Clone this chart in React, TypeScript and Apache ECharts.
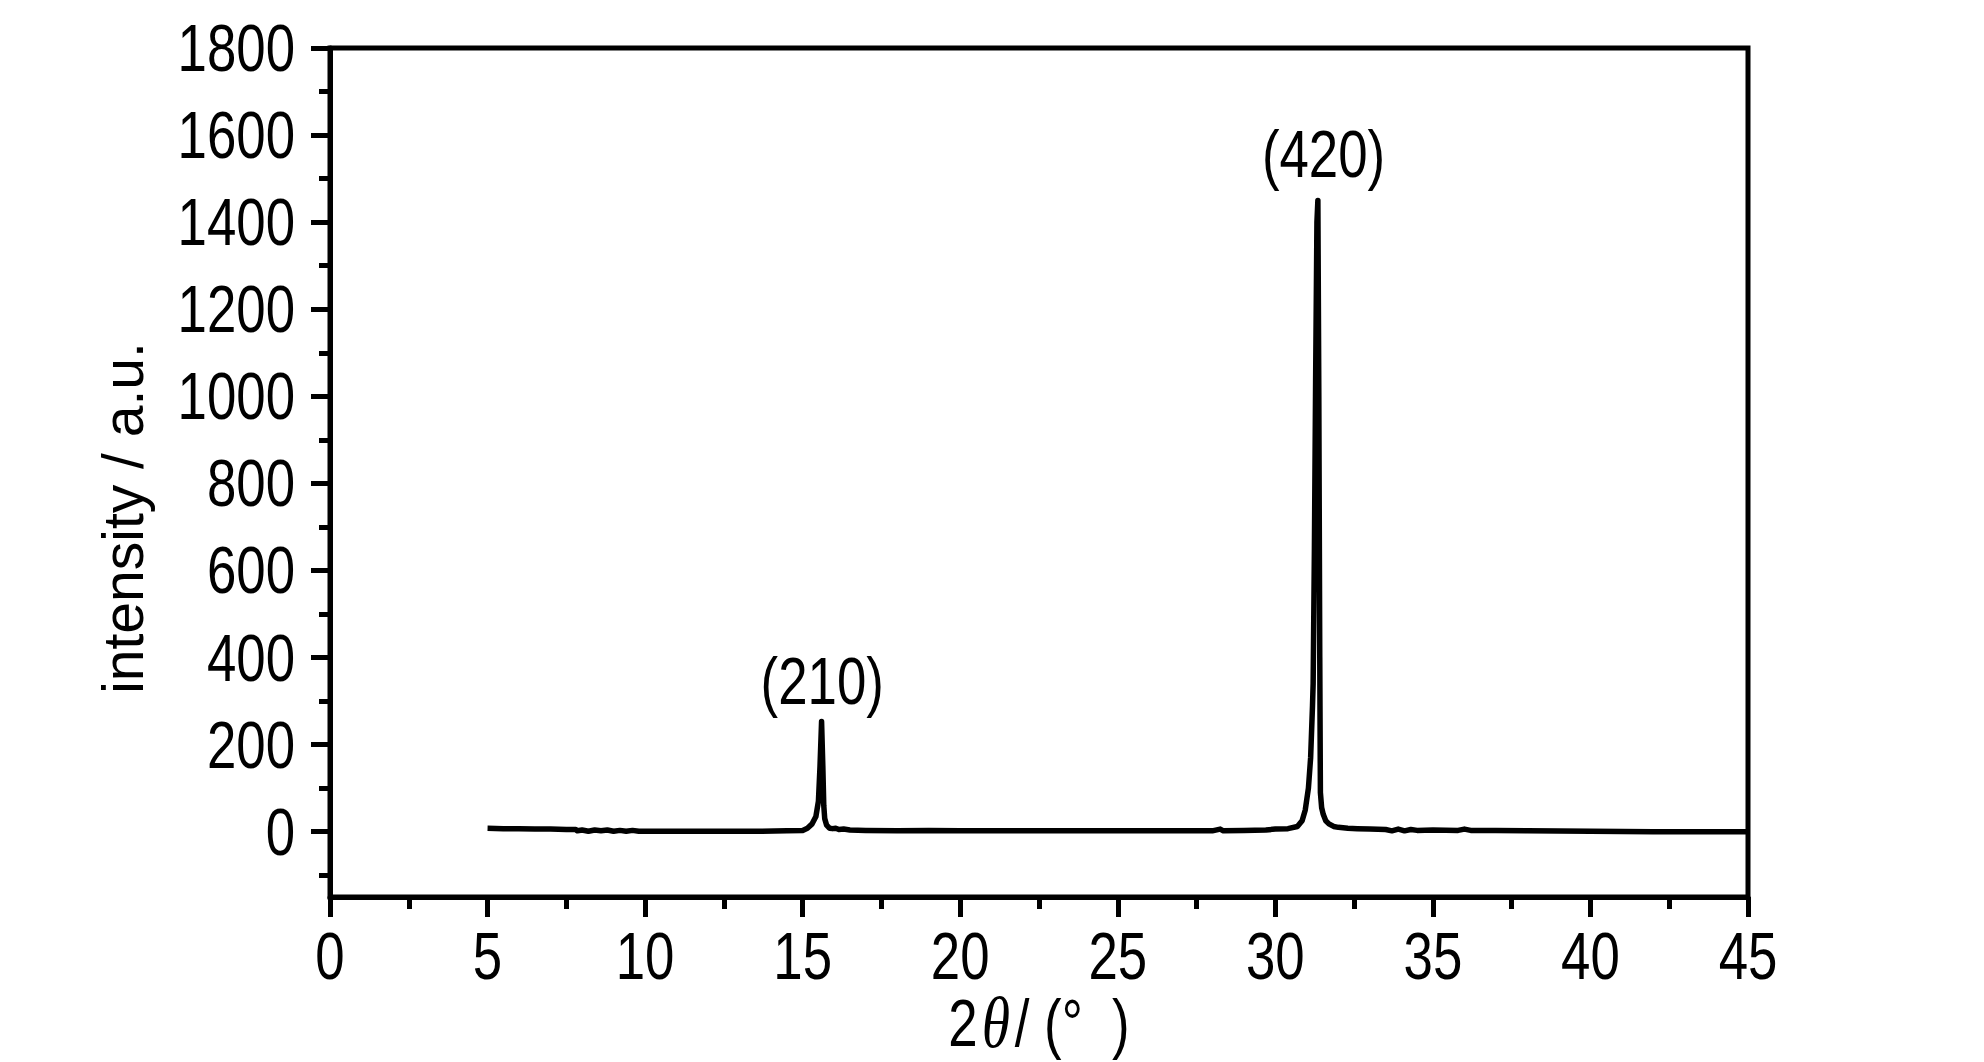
import React, { useEffect, useRef } from "react";
import * as echarts from "echarts";

const twoTheta = [
  5.0, 5.5, 6.0, 6.5, 7.0, 7.5, 7.8, 7.85, 8.0, 8.2, 8.4, 8.6, 8.8, 9.0, 9.2, 9.4, 9.6, 9.8,
  10.5, 11.5, 12.5, 13.5, 14.5, 15.0, 15.15, 15.3, 15.42, 15.5, 15.55, 15.6, 15.64, 15.67,
  15.7, 15.76, 15.85, 15.95, 16.05, 16.15, 16.3, 16.5, 17.0, 18.0, 19.0, 20.0, 22.0, 24.0, 26.0,
  28.0, 28.25, 28.35, 29.0, 29.7, 30.0, 30.4, 30.7, 30.85, 30.95, 31.05, 31.12, 31.18, 31.2,
  31.24, 31.28, 31.32, 31.35, 31.38, 31.41, 31.43, 31.47, 31.52, 31.6, 31.7, 31.85, 32.0, 32.3,
  32.6, 33.0, 33.5, 33.7, 33.9, 34.1, 34.3, 34.5, 35.0, 35.8, 36.0, 36.2, 37.0, 38.0, 40.0, 42.0, 45.0,
];
const intensity = [
  8, 7, 7, 6, 6, 5, 5, 2, 4, 1, 4, 2, 4, 1, 3, 1, 3, 1,
  1, 1, 1, 1, 2, 3, 8, 18, 35, 70, 150, 253, 150, 60,
  30, 15, 8, 7, 8, 5, 6, 4, 3, 2, 3, 2, 2, 2, 2,
  2, 6, 2, 3, 4, 6, 7, 12, 25, 50, 100, 170, 290, 340,
  650, 1050, 1400, 1450, 1000, 400, 90, 55, 40, 25, 18, 12, 10, 8,
  7, 6, 5, 2, 6, 2, 5, 3, 4, 3, 6, 3, 3, 2, 1, 0, 0,
];

const xTicksMajor = [0, 5, 10, 15, 20, 25, 30, 35, 40, 45];
const yMajor = [0, 200, 400, 600, 800, 1000, 1200, 1400, 1600, 1800];
const yMinor = [-100, 100, 300, 500, 700, 900, 1100, 1300, 1500, 1700];

const peakLabels = ["(210)", "(420)"];
const peakLabelPos = [
  [15.62, 345],
  [31.53, 1557],
];

const xTitle = ["2", "θ", "/ (°  )"];
const yTitle = "intensity / a.u.";

const SANS = '"Liberation Sans", Arial, sans-serif';
const SERIF = '"Liberation Serif", "Times New Roman", serif';
const SQUEEZE = 0.8;
const FS = 66;

export default function App() {
  const ref = useRef<HTMLDivElement>(null);
  useEffect(() => {
    if (!ref.current) return;
    const chart = echarts.init(ref.current, undefined, { renderer: "svg" });
    const lw = 5;
    const gridLeft = 330;
    const gridRight = 236;
    const W = 1984;
    chart.setOption({
      animation: false,
      backgroundColor: "#fff",
      grid: {
        left: gridLeft,
        right: gridRight,
        top: 48,
        bottom: 165,
        show: true,
        borderColor: "#000",
        borderWidth: lw,
        backgroundColor: "transparent",
      },
      xAxis: {
        type: "value",
        min: 0,
        max: 45,
        interval: 5,
        axisLine: { show: true, onZero: false, lineStyle: { color: "#000", width: lw } },
        axisTick: { show: true, length: 20, lineStyle: { color: "#000", width: lw } },
        minorTick: { show: true, splitNumber: 2, length: 12, lineStyle: { color: "#000", width: lw } },
        axisLabel: {
          show: true,
          customValues: xTicksMajor,
          formatter: (v: number) => String(v),
          margin: 26,
          fontSize: FS,
          fontFamily: SANS,
          color: "#000",
        },
        splitLine: { show: false },
        minorSplitLine: { show: false },
      },
      yAxis: [
        {
          type: "value",
          min: -150,
          max: 1800,
          position: "left",
          axisLine: { show: true, onZero: false, lineStyle: { color: "#000", width: lw } },
          axisTick: { show: true, length: 19, customValues: yMajor, lineStyle: { color: "#000", width: lw } },
          axisLabel: {
            show: true,
            customValues: yMajor,
            formatter: (v: number) => String(v),
            margin: 35,
            fontSize: FS,
            fontFamily: SANS,
            color: "#000",
            padding: [12, 0, 0, 0],
          },
          splitLine: { show: false },
        },
        {
          type: "value",
          min: -150,
          max: 1800,
          position: "left",
          axisLine: { show: false },
          axisTick: { show: true, length: 11, customValues: yMinor, lineStyle: { color: "#000", width: lw } },
          axisLabel: { show: false },
          splitLine: { show: false },
        },
      ],
      graphic: [
        {
          type: "text",
          x: 123,
          y: 518,
          rotation: Math.PI / 2,
          style: {
            text: yTitle,
            fontSize: 57,
            fontFamily: SANS,
            fill: "#000",
            align: "center",
            verticalAlign: "middle",
          },
        },
        {
          type: "text",
          x: gridLeft + (W - gridLeft - gridRight) / 2,
          y: 1023,
          scaleX: SQUEEZE,
          style: {
            text: `{a|${xTitle[0]}}{b|${xTitle[1]}}{a|${xTitle[2]}}`,
            align: "center",
            verticalAlign: "middle",
            rich: {
              a: { fontSize: FS, fontFamily: SANS, fill: "#000" },
              b: {
                fontSize: 72,
                fontFamily: SERIF,
                fontStyle: "italic",
                fill: "#000",
                padding: [0, 6, 0, 5],
              },
            },
          },
        },
      ],
      series: [
        {
          type: "line",
          xAxisIndex: 0,
          yAxisIndex: 0,
          data: twoTheta.map((x, i) => [x, intensity[i]]),
          showSymbol: false,
          symbol: "none",
          smooth: false,
          lineStyle: { color: "#000", width: 5.5, join: "round" },
          markPoint: {
            symbol: "circle",
            symbolSize: 1,
            itemStyle: { color: "transparent" },
            label: {
              show: true,
              position: "inside",
              formatter: (p: any) => p.name,
              fontSize: FS,
              fontFamily: SANS,
              color: "#000",
            },
            data: peakLabels.map((n, i) => ({ name: n, coord: peakLabelPos[i] })),
          },
        },
      ],
    });

    // Condense the tick and peak labels (the reference uses a narrow face).
    const squeezeSet = new Set<string>([
      ...xTicksMajor.map(String),
      ...yMajor.map(String),
      ...peakLabels,
    ]);
    const svg = ref.current.querySelector("svg");
    if (svg) {
      svg.querySelectorAll("text").forEach((t) => {
        const txt = (t.textContent || "").trim();
        if (!squeezeSet.has(txt)) return;
        const len = (t as SVGTextElement).getComputedTextLength();
        if (len > 0) {
          t.setAttribute("textLength", String(len * SQUEEZE));
          t.setAttribute("lengthAdjust", "spacingAndGlyphs");
        }
      });
    }
    return () => chart.dispose();
  }, []);
  return (
    <div
      ref={ref}
      style={{ position: "fixed", left: 0, top: 0, width: 1984, height: 1062, background: "#fff" }}
    />
  );
}
